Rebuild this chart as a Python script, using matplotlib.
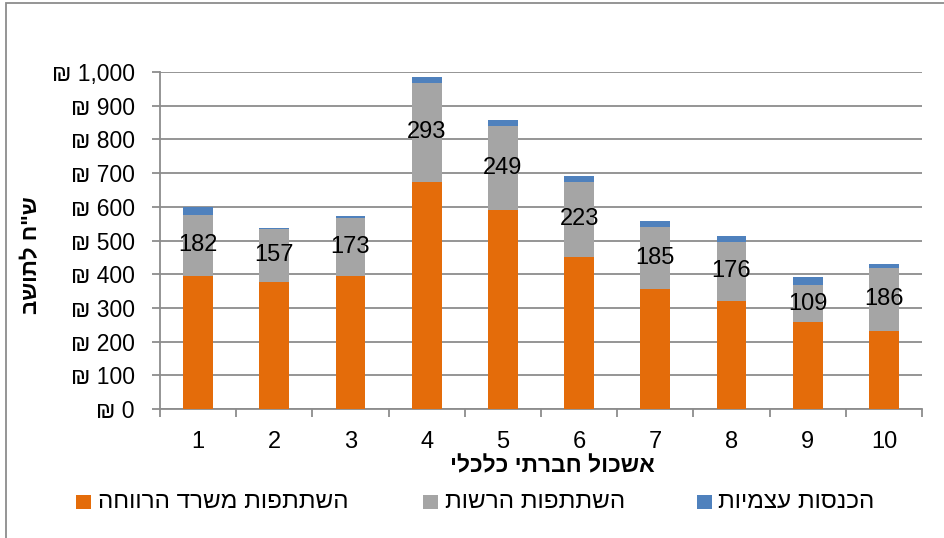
import matplotlib
matplotlib.use("Agg")
import matplotlib.pyplot as plt
from matplotlib.patches import Rectangle
import numpy as np

categories = ["1", "2", "3", "4", "5", "6", "7", "8", "9", "10"]
welfare = [395, 377, 395, 674, 590, 451, 356, 321, 258, 232]      # השתתפות משרד הרווחה
authority = [182, 157, 173, 293, 249, 223, 185, 176, 109, 186]    # השתתפות הרשות
own_income = [23, 4, 5, 18, 19, 18, 17, 15, 24, 12]               # הכנסות עצמיות
yticks = [0, 100, 200, 300, 400, 500, 600, 700, 800, 900, 1000]

series_names = ["השתתפות משרד הרווחה", "השתתפות הרשות", "הכנסות עצמיות"]
xlabel = "אשכול חברתי כלכלי"
ylabel = 'ש"ח לתושב'

def rtl(s):
    return s[::-1]

FAM = ["Liberation Sans", "DejaVu Sans"]
plt.rcParams["font.family"] = FAM

W, H = 945, 538
fig = plt.figure(figsize=(W / 100, H / 100), dpi=100)
ax = fig.add_axes([160/W, 1 - 409/H, 762/W, 337/H])

x = np.arange(len(categories))
w = 0.39
colors = ["#E46C0A", "#A5A5A5", "#4F81BD"]
welfare_a = np.array(welfare)
auth_a = np.array(authority)
b1 = ax.bar(x, welfare_a, w, color=colors[0], zorder=3)
b2 = ax.bar(x, auth_a, w, bottom=welfare_a, color=colors[1], zorder=3)
b3 = ax.bar(x, own_income, w, bottom=welfare_a + auth_a, color=colors[2], zorder=3)

for xi, b, v in zip(x, welfare_a, auth_a):
    ax.text(xi, b + v / 2, f"{v}", ha="center", va="center", fontsize=17, color="black", zorder=4)

ax.set_xlim(-0.5, len(categories) - 0.5)
ax.set_ylim(0, 1000)
ax.set_yticks(yticks)
ax.set_yticklabels([f"₪ {v:,}" for v in yticks], fontsize=16.5)
ax.yaxis.grid(True, color="#8C8C8C", linewidth=1.3, zorder=0)
ax.set_axisbelow(True)

ax.set_xticks(x)
ax.set_xticklabels(categories, fontsize=17)
ax.set_xticks(np.arange(-0.5, len(categories), 1.0), minor=True)
ax.tick_params(axis="x", which="major", length=0, pad=15.5)
ax.tick_params(axis="x", which="minor", length=6, width=1.3, color="#8C8C8C", direction="out")
ax.tick_params(axis="y", length=6, width=1.3, color="#8C8C8C", direction="out", pad=12)

for s in ["top", "right"]:
    ax.spines[s].set_visible(False)
for s in ["left", "bottom"]:
    ax.spines[s].set_color("#8C8C8C")
    ax.spines[s].set_linewidth(1.3)

fig.text(552/W, 1 - 466/H, rtl(xlabel), ha="center", va="center", fontsize=16.5, fontweight="bold")
fig.text(32/W, 1 - 255/H, rtl(ylabel), ha="center", va="center", rotation=90, fontsize=16, fontweight="bold")

# legend (RTL layout: square left of each label)
leg_sq_x = [76, 423, 697]
leg_tx_x = [98, 445, 718]
for c, sx, tx, name in zip(colors, leg_sq_x, leg_tx_x, series_names):
    fig.add_artist(Rectangle((sx / W, 1 - 509/H), 15 / W, 14 / H, transform=fig.transFigure,
                             facecolor=c, edgecolor="none"))
    fig.text(tx / W, 1 - 502/H, rtl(name), ha="left", va="center", fontsize=17.5)

fig.add_artist(Rectangle((6/W, -0.1), 2, 1.1 - 3/H, transform=fig.transFigure,
                         fill=False, edgecolor="#8C8C8C", linewidth=1.3))

fig.savefig("out.png", dpi=100)
